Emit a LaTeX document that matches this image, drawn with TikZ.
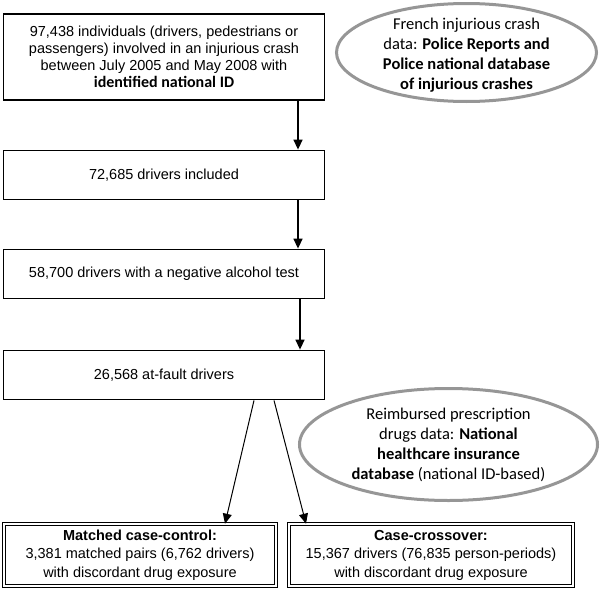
\documentclass[tikz,border=0pt]{standalone}
\usepackage{fontspec}
\setmainfont{Liberation Sans}
\newfontfamily\calib{Carlito}
\usetikzlibrary{shapes.geometric,arrows.meta}
\definecolor{ellgray}{RGB}{150,150,150}
\tikzset{
  stepbox/.style={draw=black, line width=1.8pt, rectangle, inner sep=0pt,
    minimum width=321pt, align=center, font=\fontsize{14.5}{17}\selectfont},
  endbox/.style={draw=black, double, double distance=1.6pt, line width=1pt, rectangle,
    inner sep=0pt, minimum height=61.6pt, align=center, font=\fontsize{14.5}{18.5}\selectfont},
  srcell/.style={draw=ellgray, line width=3pt, ellipse, inner sep=0pt},
  srctext/.style={align=center, inner sep=0pt, font=\calib\fontsize{16.5}{20}\selectfont},
  arr/.style={draw=black, line width=1.4pt, -{Triangle[length=10pt,width=9pt]}},
  thinarr/.style={draw=black, line width=1pt, -{Triangle[length=10pt,width=9pt]}},
}
\begin{document}
\begin{tikzpicture}[x=1pt,y=-1pt]
\useasboundingbox (0,0) rectangle (600,589);
% boxes
\node[stepbox, minimum height=86pt] (b1) at (164,57)
  {97,438 individuals (drivers, pedestrians or\\
   passengers) involved in an injurious crash\\
   between July 2005 and May 2008 with\\
   {\calib\fontsize{16}{17}\selectfont\bfseries identified national ID}};
\node[stepbox, minimum height=49pt] (b2) at (164,175) {72,685 drivers included};
\node[stepbox, minimum height=49pt] (b3) at (164,274) {58,700 drivers with a negative alcohol test};
\node[stepbox, minimum height=49pt] (b4) at (164,375) {26,568 at-fault drivers};
\node[endbox, minimum width=271.6pt] (b5) at (140,555)
  {\textbf{Matched case-control:}\\3,381 matched pairs (6,762 drivers)\\with discordant drug exposure};
\node[endbox, minimum width=283.6pt] (b6) at (431,555)
  {\textbf{Case-crossover:}\\15,367 drivers (76,835 person-periods)\\with discordant drug exposure};
% ellipses
\node[srcell, minimum width=260pt, minimum height=98pt] (e1) at (466.5,52.5) {};
\node[srctext] (e1t) at (466.5,55)
  {French injurious crash\\data: \textbf{Police Reports and}\\\textbf{Police national database}\\\textbf{of injurious crashes}};
\node[srcell, minimum width=298pt, minimum height=112pt] (e2) at (448.5,444.5) {};
\node[srctext] (e2t) at (e2.center)
  {Reimbursed prescription\\drugs data: \textbf{National}\\\textbf{healthcare insurance}\\\textbf{database} (national ID-based)};
% connector columns
\coordinate (x1) at (298,0);
\coordinate (x2) at (300,0);
\coordinate (c1) at (254,0);
\coordinate (c2) at (225,0);
\coordinate (c3) at (274,0);
\coordinate (c4) at (306,0);
\draw[arr] (b1.south -| x1) -- (b2.north -| x1);
\draw[arr] (b2.south -| x1) -- (b3.north -| x1);
\draw[arr] (b3.south -| x2) -- (b4.north -| x2);
\draw[thinarr] (b4.south -| c1) -- (b5.north -| c2);
\draw[thinarr] (b4.south -| c3) -- (b6.north -| c4);
\end{tikzpicture}
\end{document}
